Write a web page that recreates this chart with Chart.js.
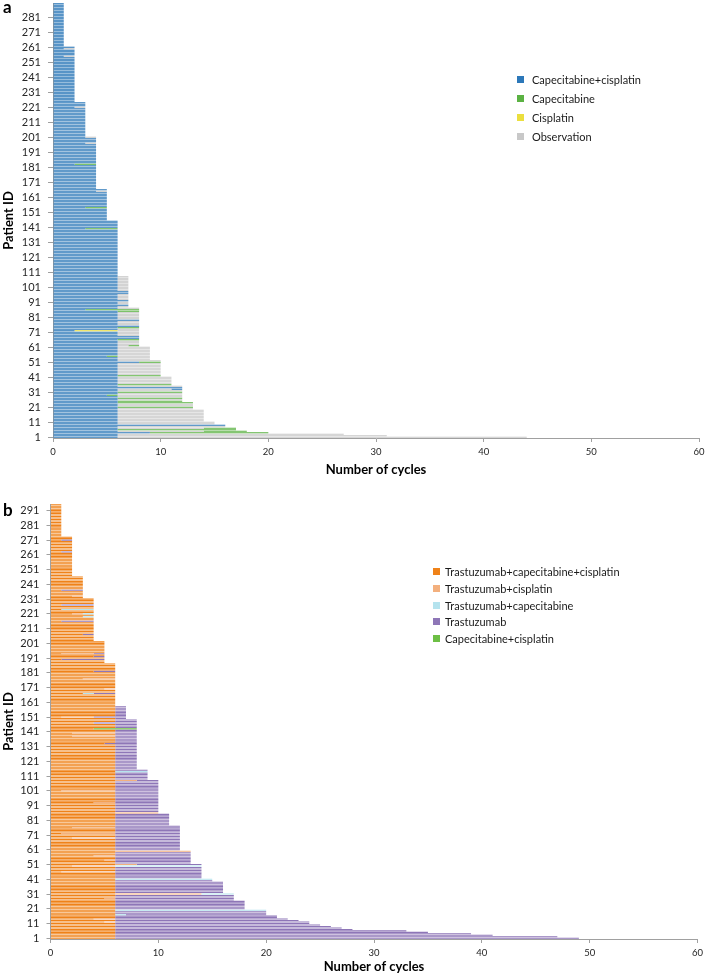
<!DOCTYPE html>
<html><head><meta charset="utf-8">
<script src="https://cdn.jsdelivr.net/npm/chart.js@4.4.1/dist/chart.umd.min.js"></script>
<style>
html,body{margin:0;padding:0;background:#fff;}
body{width:709px;height:977px;position:relative;overflow:hidden;font-family:Lato,"Open Sans",sans-serif;}
canvas{position:absolute;left:0;}
#cA{top:0;} #cB{top:490px;}
.panel{position:absolute;font-weight:bold;font-size:17px;color:#000;line-height:1;}
.legend{position:absolute;font-size:11px;color:#1a1a1a;}
.legend .item{display:flex;align-items:center;white-space:nowrap;}
.legend .sw{width:7px;height:7px;display:inline-block;flex:none;}
</style></head>
<body>
<canvas id="cA" width="709" height="480"></canvas>
<canvas id="cB" width="709" height="487"></canvas>
<div class="panel" style="left:3px;top:-2px">a</div>
<div class="panel" style="left:3px;top:501px">b</div>
<div id="legA" class="legend" style="left:517px;top:70.6px"></div>
<div id="legB" class="legend" style="left:433px;top:563.7px"></div>
<script>
// ---------------- Panel a: cycles per patient (index 0 = patient 1) ----------------
const capCisA = [
6,6,6,9,6,6,6,6,16,6,
6,6,6,6,6,6,6,6,6,6,
6,6,6,6,6,6,6,6,5,6,
6,6,6,12,6,6,6,6,6,6,
6,6,6,6,6,6,6,6,6,6,
8,6,6,6,5,6,6,6,6,6,
6,6,6,6,6,6,8,8,6,6,
6,2,6,6,8,6,6,6,8,6,
6,6,6,6,6,3,6,6,7,6,
6,7,6,6,6,6,7,7,6,6,
6,6,6,6,6,6,6,6,6,6,
6,6,6,6,6,6,6,6,6,6,
6,6,6,6,6,6,6,6,6,6,
6,6,6,6,6,6,6,6,6,3,
6,6,6,6,6,5,5,5,5,5,
5,5,5,3,5,5,5,5,5,5,
5,5,5,5,4,5,4,4,4,4,
4,4,4,4,4,4,4,4,4,4,
4,4,2,4,4,4,4,4,4,4,
4,4,4,4,4,4,3,4,4,4,
3,3,3,3,3,3,3,3,3,3,
3,3,3,3,3,3,3,3,3,3,
2,3,3,3,2,2,2,2,2,2,
2,2,2,2,2,2,2,2,2,2,
2,2,2,2,2,2,2,2,2,2,
2,2,2,2,1,2,2,2,2,1,
2,1,1,1,1,1,1,1,1,1,
1,1,1,1,1,1,1,1,1,1,
1,1,1,1,1,1,1,1,1,1
];
const cisplatinA = [
0,0,0,0,0,0,0,0,0,0,
0,0,0,0,0,0,0,0,0,0,
0,0,0,0,0,0,0,0,0,0,
0,0,0,0,0,0,0,0,0,0,
0,0,0,0,0,0,0,0,0,0,
0,0,0,0,0,0,0,0,0,0,
0,0,0,0,0,0,0,0,0,0,
0,4,0,0,0,0,0,0,0,0,
0,0,0,0,0,0,0,0,0,0,
0,0,0,0,0,0,0,0,0,0,
0,0,0,0,0,0,0,0,0,0,
0,0,0,0,0,0,0,0,0,0,
0,0,0,0,0,0,0,0,0,0,
0,0,0,0,0,0,0,0,0,0,
0,0,0,0,0,0,0,0,0,0,
0,0,0,0,0,0,0,0,0,0,
0,0,0,0,0,0,0,0,0,0,
0,0,0,0,0,0,0,0,0,0,
0,0,0,0,0,0,0,0,0,0,
0,0,0,0,0,0,0,0,0,0,
0,0,0,0,0,0,0,0,0,0,
0,0,0,0,0,0,0,0,0,0,
0,0,0,0,0,0,0,0,0,0,
0,0,0,0,0,0,0,0,0,0,
0,0,0,0,0,0,0,0,0,0,
0,0,0,0,0,0,0,0,0,0,
0,0,0,0,0,0,0,0,0,0,
0,0,0,0,0,0,0,0,0,0,
0,0,0,0,0,0,0,0,0,0
];
const capecitabineA = [
0,0,0,11,0,11,0,0,0,0,
0,0,0,0,0,0,0,0,0,0,
7,0,0,7,6,0,6,0,1,0,
6,0,0,0,0,5,0,0,0,0,
0,4,0,0,0,0,0,0,0,0,
2,0,0,0,1,0,0,0,0,0,
0,0,0,0,0,2,0,0,0,0,
0,0,0,2,0,0,0,0,0,0,
0,0,0,0,2,5,0,0,0,0,
0,0,0,0,0,0,0,0,0,0,
0,0,0,0,0,0,0,0,0,0,
0,0,0,0,0,0,0,0,0,0,
0,0,0,0,0,0,0,0,0,0,
0,0,0,0,0,0,0,0,0,3,
0,0,0,0,0,0,0,0,0,0,
0,0,0,2,0,0,0,0,0,0,
0,0,0,0,0,0,0,0,0,0,
0,0,0,0,0,0,0,0,0,0,
0,0,2,0,0,0,0,0,0,0,
0,0,0,0,0,0,0,0,0,0,
0,0,0,0,0,0,0,0,0,0,
0,0,0,0,0,0,0,0,0,0,
0,0,0,0,0,0,0,0,0,0,
0,0,0,0,0,0,0,0,0,0,
0,0,0,0,0,0,0,0,0,0,
0,0,0,0,0,0,0,0,0,0,
0,0,0,0,0,0,0,0,0,0,
0,0,0,0,0,0,0,0,0,0,
0,0,0,0,0,0,0,0,0,0
];
const observationA = [
38,25,21,0,8,0,8,10,0,9,
9,8,8,8,8,8,8,8,8,7,
0,7,7,0,0,6,0,6,6,6,
0,6,5,0,6,0,5,5,5,5,
5,0,4,4,4,4,4,4,4,4,
0,4,3,3,3,3,3,3,3,3,
3,1,2,2,2,0,0,0,2,2,
2,2,2,0,0,2,2,2,0,2,
2,2,2,2,0,0,2,1,0,1,
1,0,1,1,1,1,0,0,1,1,
1,1,1,1,1,1,1,1,0,0,
0,0,0,0,0,0,0,0,0,0,
0,0,0,0,0,0,0,0,0,0,
0,0,0,0,0,0,0,0,0,0,
0,0,0,0,0,0,0,0,0,0,
0,0,0,0,0,0,0,0,0,0,
0,0,0,0,1,0,0,0,0,0,
0,0,0,0,0,0,0,0,0,0,
0,0,0,0,0,0,0,0,0,0,
0,0,0,0,0,0,1,0,0,0,
1,0,0,0,0,0,0,0,0,0,
0,0,0,0,0,0,0,0,0,0,
1,0,0,0,0,0,0,0,0,0,
0,0,0,0,0,0,0,0,0,0,
0,0,0,0,0,0,0,0,0,0,
0,0,0,0,1,0,0,0,0,1,
0,0,0,0,0,0,0,0,0,0,
0,0,0,0,0,0,0,0,0,0,
0,0,0,0,0,0,0,0,0,0
];
// segments drawn after observation (treatment resumed later)
const capCisLaterA = [
0,0,0,0,0,0,0,0,0,0,
0,0,0,0,0,0,0,0,0,0,
0,0,0,0,0,0,0,0,0,0,
0,0,1,0,0,0,0,0,0,0,
0,0,0,0,0,0,0,0,0,0,
0,0,0,0,0,0,0,0,0,0,
0,0,0,0,0,0,0,0,0,0,
0,0,0,0,0,0,0,0,0,0,
0,0,0,0,0,0,0,0,0,0,
0,0,0,0,0,0,0,0,0,0,
0,0,0,0,0,0,0,0,0,0,
0,0,0,0,0,0,0,0,0,0,
0,0,0,0,0,0,0,0,0,0,
0,0,0,0,0,0,0,0,0,0,
0,0,0,0,0,0,0,0,0,0,
0,0,0,0,0,0,0,0,0,0,
0,0,0,0,0,0,0,0,0,0,
0,0,0,0,0,0,0,0,0,0,
0,0,0,0,0,0,0,0,0,0,
0,0,0,0,0,0,0,0,0,0,
0,0,0,0,0,0,0,0,0,0,
0,0,0,0,0,0,0,0,0,0,
0,0,0,0,0,0,0,0,0,0,
0,0,0,0,0,0,0,0,0,0,
0,0,0,0,0,0,0,0,0,0,
0,0,0,0,0,0,0,0,0,0,
0,0,0,0,0,0,0,0,0,0,
0,0,0,0,0,0,0,0,0,0,
0,0,0,0,0,0,0,0,0,0
];
const capecitabineLaterA = [
0,0,0,0,4,0,3,0,0,0,
0,0,0,0,0,0,0,0,0,0,
0,0,0,0,0,0,0,0,0,0,
0,0,0,0,0,0,0,0,0,0,
0,0,0,0,0,0,0,0,0,0,
0,0,0,0,0,0,0,0,0,0,
0,1,0,0,0,0,0,0,0,0,
0,0,0,0,0,0,0,0,0,0,
0,0,0,0,0,0,0,0,0,0,
0,0,0,0,0,0,0,0,0,0,
0,0,0,0,0,0,0,0,0,0,
0,0,0,0,0,0,0,0,0,0,
0,0,0,0,0,0,0,0,0,0,
0,0,0,0,0,0,0,0,0,0,
0,0,0,0,0,0,0,0,0,0,
0,0,0,0,0,0,0,0,0,0,
0,0,0,0,0,0,0,0,0,0,
0,0,0,0,0,0,0,0,0,0,
0,0,0,0,0,0,0,0,0,0,
0,0,0,0,0,0,0,0,0,0,
0,0,0,0,0,0,0,0,0,0,
0,0,0,0,0,0,0,0,0,0,
0,0,0,0,0,0,0,0,0,0,
0,0,0,0,0,0,0,0,0,0,
0,0,0,0,0,0,0,0,0,0,
0,0,0,0,0,0,0,0,0,0,
0,0,0,0,0,0,0,0,0,0,
0,0,0,0,0,0,0,0,0,0,
0,0,0,0,0,0,0,0,0,0
];
const yTickLabelsA = ['1','11','21','31','41','51','61','71','81','91','101','111','121','131','141','151','161','171','181','191','201','211','221','231','241','251','261','271','281'];

// ---------------- Panel b ----------------
const trasCapCisB = [
6,6,6,6,6,6,6,6,6,6,
6,5,6,4,6,6,6,6,6,6,
6,6,6,6,6,6,6,5,6,6,
6,6,6,6,6,6,6,6,6,6,
6,6,6,6,6,1,6,6,6,2,
6,6,6,5,6,6,4,6,6,6,
6,6,6,6,6,6,6,6,2,6,
6,1,6,6,6,2,6,6,6,6,
6,6,6,6,6,6,6,6,6,6,
6,6,4,6,6,6,6,6,6,6,
1,6,6,6,6,6,6,6,6,6,
6,6,6,6,6,6,6,6,6,6,
6,6,6,6,6,6,6,6,6,6,
6,6,5,6,6,6,6,2,6,2,
6,6,4,6,6,6,4,6,6,6,
1,6,6,6,6,6,6,6,6,6,
6,6,6,6,6,6,3,6,6,5,
6,6,6,6,6,6,3,6,6,6,
6,4,6,6,6,6,6,5,5,1,
5,4,5,1,5,5,5,5,5,5,
5,5,4,4,4,4,3,4,4,4,
4,4,4,4,4,1,4,4,3,4,
2,4,4,1,4,4,1,4,4,4,
4,3,2,3,3,3,1,3,3,3,
3,3,3,3,3,3,2,2,2,2,
2,2,2,2,2,2,2,2,2,2,
2,2,1,2,2,2,2,2,2,2,
1,2,2,1,1,1,1,1,1,1,
1,1,1,1,1,1,1,1,1,1,
1,1,1,1,1
];
const trasCisB = [
0,0,0,0,0,0,0,0,0,0,
0,1,0,2,0,0,0,0,0,0,
0,0,0,0,0,0,0,1,0,0,
8,0,0,0,0,0,0,0,0,0,
0,0,0,0,0,5,0,0,0,4,
2,0,0,1,0,0,2,0,0,7,
0,0,0,0,0,0,0,0,4,0,
0,5,0,0,0,4,0,0,0,0,
0,0,0,0,0,4,0,0,0,0,
0,0,2,0,0,0,0,0,0,0,
5,0,0,0,0,0,0,2,0,0,
0,0,0,0,0,0,0,0,0,0,
0,0,0,0,0,0,0,0,0,0,
0,0,0,0,0,0,0,4,0,4,
0,0,0,0,0,0,0,0,0,0,
3,0,0,0,0,0,0,0,0,0,
0,0,0,0,0,0,0,0,0,1,
0,0,0,0,0,0,3,0,0,0,
0,0,0,0,0,0,0,0,0,0,
0,0,0,3,0,0,0,0,0,0,
0,0,0,0,0,0,0,0,0,0,
0,0,0,0,0,0,0,0,0,0,
1,0,0,0,0,0,0,0,0,0,
0,0,1,0,0,0,0,0,0,0,
0,0,0,0,0,0,0,0,0,0,
0,0,0,0,0,0,0,0,0,0,
0,0,0,0,0,0,0,0,0,0,
0,0,0,0,0,0,0,0,0,0,
0,0,0,0,0,0,0,0,0,0,
0,0,0,0,0
];
const trasCapB = [
0,0,0,0,0,0,0,0,0,0,
0,0,0,0,0,0,1,0,0,14,
0,0,0,0,0,0,0,0,0,0,
3,0,0,0,0,0,0,0,0,0,
9,0,0,0,0,0,0,0,0,8,
0,0,0,0,0,0,0,0,0,0,
0,0,0,0,0,0,0,0,0,0,
0,0,0,0,0,0,0,0,0,0,
0,0,0,0,0,0,0,0,0,0,
0,0,0,0,0,0,0,0,0,0,
0,0,0,0,0,0,0,0,0,0,
0,0,0,3,0,0,0,0,0,0,
0,0,0,0,0,0,0,0,0,0,
0,0,0,0,0,0,0,0,0,0,
0,0,0,0,0,0,0,0,0,0,
0,0,0,0,0,0,0,0,0,0,
0,0,0,0,0,0,1,0,0,0,
0,0,0,0,0,0,0,0,0,0,
0,0,0,0,0,0,0,0,0,0,
0,0,0,0,0,0,0,0,0,0,
0,0,0,0,0,0,0,0,0,0,
0,0,0,0,0,0,0,0,1,0,
1,0,0,3,0,0,0,0,0,0,
0,0,0,0,0,0,0,0,0,0,
0,0,0,0,0,0,0,0,0,0,
0,0,0,0,0,0,0,0,0,0,
0,0,0,0,0,0,0,0,0,0,
0,0,0,0,0,0,0,0,0,0,
0,0,0,0,0,0,0,0,0,0,
0,0,0,0,0
];
const trastuzumabB = [
43,41,35,33,29,27,22,21,20,19,
18,18,17,16,15,15,13,14,14,0,
12,12,12,12,12,12,11,11,11,11,
0,10,10,10,10,10,10,10,10,9,
0,8,8,8,8,8,8,8,8,0,
6,7,7,7,7,7,7,7,7,0,
6,6,6,6,6,6,6,6,6,6,
6,6,6,6,6,6,6,5,5,5,
5,5,5,5,5,0,4,4,4,4,
4,4,4,4,4,4,4,4,4,4,
4,4,4,4,4,4,4,2,3,3,
3,3,3,0,3,2,2,2,2,2,
2,2,2,2,2,2,2,2,2,2,
2,2,3,2,2,2,2,2,2,2,
2,2,0,2,2,2,4,2,2,1,
3,1,1,1,1,1,1,1,0,0,
0,0,0,0,0,0,2,0,0,0,
0,0,0,0,0,0,0,0,0,0,
0,2,0,0,0,0,0,0,0,4,
0,1,0,1,0,0,0,0,0,0,
0,0,0,0,0,0,1,0,0,0,
0,0,0,0,0,3,0,0,0,0,
0,0,0,0,0,0,3,0,0,0,
0,0,0,0,0,0,2,0,0,0,
0,0,0,0,0,0,0,0,0,0,
0,0,0,0,0,0,0,0,0,0,
0,0,1,0,0,0,0,0,0,0,
1,0,0,0,0,0,0,0,0,0,
0,0,0,0,0,0,0,0,0,0,
0,0,0,0,0
];
const capCisB = [
0,0,0,0,0,0,0,0,0,0,
0,0,0,0,0,0,0,0,0,0,
0,0,0,0,0,0,0,0,0,0,
0,0,0,0,0,0,0,0,0,0,
0,0,0,0,0,0,0,0,0,0,
0,0,0,0,0,0,0,0,0,0,
0,0,0,0,0,0,0,0,0,0,
0,0,0,0,0,0,0,0,0,0,
0,0,0,0,0,0,0,0,0,0,
0,0,0,0,0,0,0,0,0,0,
0,0,0,0,0,0,0,0,0,0,
0,0,0,0,0,0,0,0,0,0,
0,0,0,0,0,0,0,0,0,0,
0,0,0,0,0,0,0,0,0,0,
0,0,4,0,0,0,0,0,0,0,
0,0,0,0,0,0,0,0,0,0,
0,0,0,0,0,0,0,0,0,0,
0,0,0,0,0,0,0,0,0,0,
0,0,0,0,0,0,0,0,0,0,
0,0,0,0,0,0,0,0,0,0,
0,0,0,0,0,0,0,0,0,0,
0,0,0,0,0,0,0,0,0,0,
0,0,0,0,0,0,0,0,0,0,
0,0,0,0,0,0,0,0,0,0,
0,0,0,0,0,0,0,0,0,0,
0,0,0,0,0,0,0,0,0,0,
0,0,0,0,0,0,0,0,0,0,
0,0,0,0,0,0,0,0,0,0,
0,0,0,0,0,0,0,0,0,0,
0,0,0,0,0
];
const yTickLabelsB = ['1','11','21','31','41','51','61','71','81','91','101','111','121','131','141','151','161','171','181','191','201','211','221','231','241','251','261','271','281','291'];
const xTickValues = [0,10,20,30,40,50,60];

// categories: patient IDs
const patientIdsA = capCisA.map((_, i) => String(i + 1));
const patientIdsB = trasCapCisB.map((_, i) => String(i + 1));

// ---------------- styles ----------------
Chart.defaults.font.family = 'Lato, "Open Sans", sans-serif';
const AXIS = '#a0a0a0';
const TXT = '#262626';
const C = {
  blue: '#2c78b9', green: '#5bb243', yellow: '#ebdf3e', gray: '#c8c8c8',
  orange: '#ef8219', lorange: '#f3b07e', cyan: '#b5e3ee', purple: '#8e76b7', green2: '#6dbf45'
};

function stackedBars(canvasId, cfg) {
  const shown = new Set(cfg.yTicks);
  return new Chart(document.getElementById(canvasId), {
    type: 'bar',
    data: {
      labels: cfg.labels,
      datasets: cfg.series.map(s => ({
        label: s.name, data: s.data, backgroundColor: s.color,
        borderWidth: 0, inflateAmount: 0, barPercentage: 0.72, categoryPercentage: 1
      }))
    },
    options: {
      indexAxis: 'y', responsive: false, animation: false, events: [],
      layout: {padding: {left: 0, top: cfg.padTop, right: cfg.padRight, bottom: 0}},
      plugins: {legend: {display: false}, tooltip: {enabled: false}},
      scales: {
        x: {
          type: 'linear', stacked: true, min: 0, max: 60, position: 'bottom',
          afterBuildTicks: s => { s.ticks = xTickValues.map(v => ({value: v})); },
          ticks: {color: TXT, font: {size: 9.5}, padding: 4, maxRotation: 0},
          grid: {drawOnChartArea: false, drawTicks: true, tickLength: 4, color: AXIS},
          border: {display: true, color: AXIS, width: 1},
          title: {display: true, text: 'Number of cycles', color: '#000',
                  font: {size: 13, weight: 'bold'}, padding: {top: 2, bottom: 2.2}},
          afterFit: s => { s.height = cfg.xAxisHeight; s.paddingLeft = 0; s.paddingRight = 0; }
        },
        y: {
          type: 'category', stacked: true, reverse: true, offset: true,
          afterBuildTicks: s => { s.ticks = s.ticks.filter(t => shown.has(cfg.labels[t.value])); },
          ticks: {autoSkip: false, color: TXT, font: {size: 11}, padding: cfg.yTickPad},
          grid: {offset: false, drawOnChartArea: false, drawTicks: true, tickLength: cfg.yTickLen, color: AXIS},
          border: {display: true, color: AXIS, width: 1},
          title: {display: true, text: 'Patient ID', color: '#000',
                  font: {size: 13, weight: 'bold'}, padding: {top: 1.2, bottom: 0}},
          afterFit: s => { s.width = cfg.yAxisWidth; s.paddingTop = 0; s.paddingBottom = 0; }
        }
      }
    }
  });
}

stackedBars('cA', {
  labels: patientIdsA, yTicks: yTickLabelsA,
  padTop: 3, padRight: 10, xAxisHeight: 42, yAxisWidth: 53, yTickLen: 5, yTickPad: 7,
  series: [
    {name: 'Capecitabine+cisplatin', data: capCisA, color: C.blue},
    {name: 'Cisplatin', data: cisplatinA, color: C.yellow},
    {name: 'Capecitabine', data: capecitabineA, color: C.green},
    {name: 'Observation', data: observationA, color: C.gray},
    {name: 'Capecitabine+cisplatin', data: capCisLaterA, color: C.blue},
    {name: 'Capecitabine', data: capecitabineLaterA, color: C.green}
  ]
});

stackedBars('cB', {
  labels: patientIdsB, yTicks: yTickLabelsB,
  padTop: 14, padRight: 11.5, xAxisHeight: 38, yAxisWidth: 50.5, yTickLen: 4, yTickPad: 7,
  series: [
    {name: 'Trastuzumab+capecitabine+cisplatin', data: trasCapCisB, color: C.orange},
    {name: 'Trastuzumab+cisplatin', data: trasCisB, color: C.lorange},
    {name: 'Trastuzumab+capecitabine', data: trasCapB, color: C.cyan},
    {name: 'Trastuzumab', data: trastuzumabB, color: C.purple},
    {name: 'Capecitabine+cisplatin', data: capCisB, color: C.green2}
  ]
});

function buildLegend(id, items, h, gap) {
  const el = document.getElementById(id);
  items.forEach(it => {
    const row = document.createElement('div'); row.className = 'item'; row.style.height = h + 'px';
    const sw = document.createElement('span'); sw.className = 'sw'; sw.style.background = it.color; sw.style.marginRight = gap + 'px';
    const tx = document.createElement('span'); tx.textContent = it.name;
    row.append(sw, tx); el.append(row);
  });
}
buildLegend('legA', [
  {name: 'Capecitabine+cisplatin', color: C.blue},
  {name: 'Capecitabine', color: C.green},
  {name: 'Cisplatin', color: C.yellow},
  {name: 'Observation', color: C.gray}
], 18.7, 8);
buildLegend('legB', [
  {name: 'Trastuzumab+capecitabine+cisplatin', color: C.orange},
  {name: 'Trastuzumab+cisplatin', color: C.lorange},
  {name: 'Trastuzumab+capecitabine', color: C.cyan},
  {name: 'Trastuzumab', color: C.purple},
  {name: 'Capecitabine+cisplatin', color: C.green2}
], 16.6, 5);
</script>
</body></html>
